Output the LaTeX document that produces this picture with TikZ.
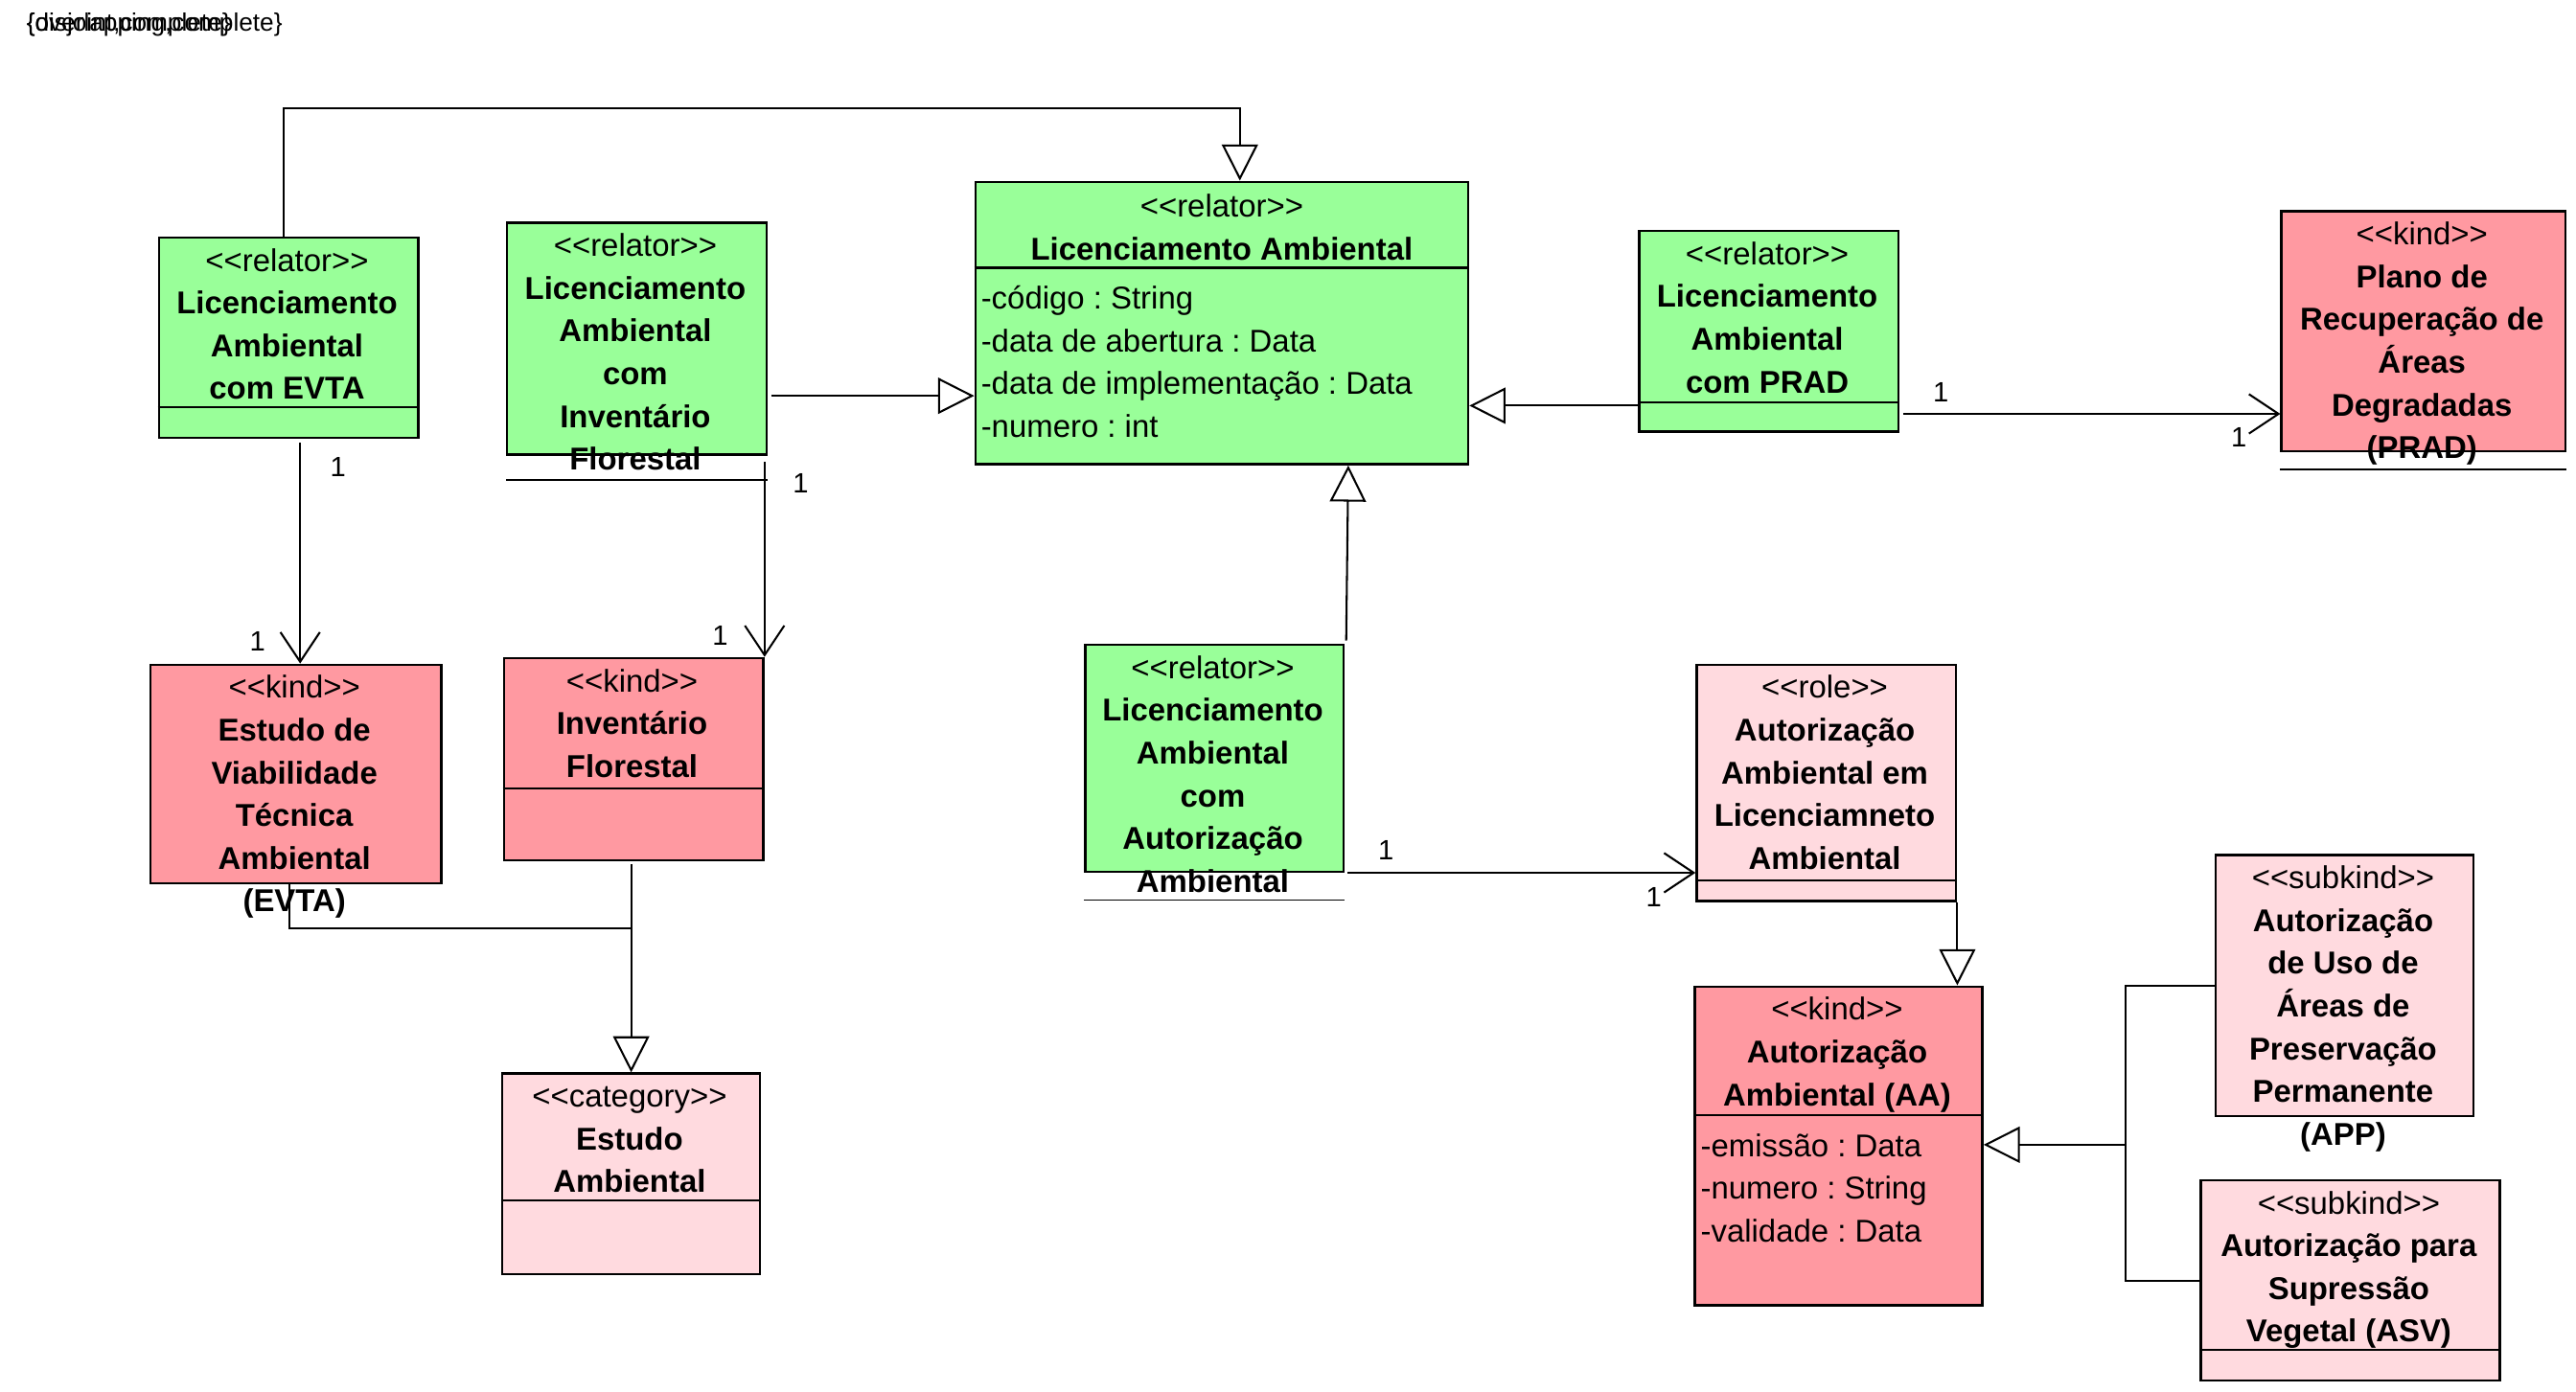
\documentclass[tikz,border=0pt]{standalone}
\usepackage{fontspec}
\setmainfont{Liberation Sans}[Ligatures=TeXOff]
\usetikzlibrary{arrows.meta,calc}
\definecolor{relgreen}{RGB}{153,255,153}
\definecolor{kindpink}{RGB}{255,153,161}
\definecolor{softpink}{RGB}{255,218,223}
\frenchspacing
% invisible strut that fixes the height of the first text line
\newcommand{\firstln}{\rule{0pt}{16pt}}
\begin{document}
\begin{tikzpicture}[x=1pt,y=-1pt,
  box/.style={draw, line width=1.4pt, inner sep=0pt, anchor=north west},
  cline/.style={line width=1.4pt},
  thinline/.style={line width=1pt},
  ctext/.style={align=center, inner sep=0pt, anchor=north, font=\fontsize{19.2}{26}\selectfont},
  atext/.style={align=left, inner sep=0pt, anchor=north west, font=\fontsize{19.2}{26}\selectfont},
  mult/.style={inner sep=0pt, font=\fontsize{17}{20}\selectfont},
  gen/.style={line width=1.2pt, -{Triangle[open, length=22pt, width=22pt, fill=white, line width=1.2pt]}},
  assoc/.style={line width=1.2pt, -{Straight Barb[length=18pt, width=24pt, line width=1.2pt]}}
]
\useasboundingbox (0,0) rectangle (1568,847);

% generalization set labels
\node[anchor=base west, inner sep=0pt, font=\fontsize{15.3}{18}\selectfont] (gsa) at (16,19) {\{disjoint,complete\}};
\node[anchor=base west, inner sep=0pt, font=\fontsize{15.3}{18}\selectfont] (gsb) at (16,19) {\{overlapping,complete\}};

% ---------- class boxes ----------
\node[box, fill=relgreen, minimum width=158pt, minimum height=122pt] (evtaR) at (96,144) {};
\node[box, fill=relgreen, minimum width=158pt, minimum height=141pt] (invR) at (308,135) {};
\node[box, fill=relgreen, minimum width=300pt, minimum height=172pt] (la) at (593,110) {};
\node[box, fill=relgreen, minimum width=158pt, minimum height=122pt] (pradR) at (997,140) {};
\node[box, fill=kindpink, minimum width=173pt, minimum height=146pt] (pradK) at (1388,128) {};
\node[box, fill=kindpink, minimum width=177pt, minimum height=133pt] (evtaK) at (91,404) {};
\node[box, fill=kindpink, minimum width=158pt, minimum height=123pt] (invK) at (306,400) {};
\node[box, fill=softpink, minimum width=157pt, minimum height=122pt] (estudo) at (305,653) {};
\node[box, fill=relgreen, minimum width=157pt, minimum height=138pt] (autR) at (660,392) {};
\node[box, fill=softpink, minimum width=158pt, minimum height=144pt] (role) at (1032,404) {};
\node[box, fill=kindpink, minimum width=175pt, minimum height=194pt] (aa) at (1031,600) {};
\node[box, fill=softpink, minimum width=157pt, minimum height=159pt] (app) at (1348,520) {};
\node[box, fill=softpink, minimum width=182pt, minimum height=122pt] (asv) at (1339,718) {};

% compartment dividers
\draw[cline] (evtaR.west |- 0,248) -- (evtaR.east |- 0,248);
\draw[line width=1.2pt] (invR.west |- 0,292) -- (invR.east |- 0,292);
\draw[cline] (la.west |- 0,163) -- (la.east |- 0,163);
\draw[cline] (pradR.west |- 0,245) -- (pradR.east |- 0,245);
\draw[line width=1.2pt] (pradK.west |- 0,286) -- (pradK.east |- 0,286);
\draw[cline] (invK.west |- 0,480) -- (invK.east |- 0,480);
\draw[cline] (estudo.west |- 0,731) -- (estudo.east |- 0,731);
\draw[thinline] (autR.west |- 0,548) -- (autR.east |- 0,548);
\draw[cline] (role.west |- 0,536) -- (role.east |- 0,536);
\draw[cline] (aa.west |- 0,679) -- (aa.east |- 0,679);
\draw[cline] (asv.west |- 0,822) -- (asv.east |- 0,822);

% ---------- class texts ----------
\node[ctext] (evtaRt) at ([xshift=-1pt,yshift=-5pt]evtaR.north) {\firstln<<relator>>\\\textbf{Licenciamento}\\\textbf{Ambiental}\\\textbf{com EVTA}};
\node[ctext] (invRt) at ([xshift=-1pt,yshift=-5pt]invR.north) {\firstln<<relator>>\\\textbf{Licenciamento}\\\textbf{Ambiental}\\\textbf{com}\\\textbf{Inventário}\\\textbf{Florestal}};
\node[ctext] (lat) at ([yshift=-6pt]la.north) {\firstln<<relator>>\\\textbf{Licenciamento Ambiental}};
\node[atext] (laa) at ([xshift=4pt,yshift=-62pt]la.north west) {\firstln-código : String\\-data de abertura : Data\\-data de implementação : Data\\-numero : int};
\node[ctext] (pradRt) at ([xshift=-1pt,yshift=-5pt]pradR.north) {\firstln<<relator>>\\\textbf{Licenciamento}\\\textbf{Ambiental}\\\textbf{com PRAD}};
\node[ctext] (pradKt) at ([xshift=-1pt,yshift=-5pt]pradK.north) {\firstln<<kind>>\\\textbf{Plano de}\\\textbf{Recuperação de}\\\textbf{Áreas}\\\textbf{Degradadas}\\\textbf{(PRAD)}};
\node[ctext] (evtaKt) at ([xshift=-1pt,yshift=-5pt]evtaK.north) {\firstln<<kind>>\\\textbf{Estudo de}\\\textbf{Viabilidade}\\\textbf{Técnica}\\\textbf{Ambiental}\\\textbf{(EVTA)}};
\node[ctext] (invKt) at ([xshift=-1pt,yshift=-5pt]invK.north) {\firstln<<kind>>\\\textbf{Inventário}\\\textbf{Florestal}};
\node[ctext] (estudot) at ([xshift=-1pt,yshift=-5pt]estudo.north) {\firstln<<category>>\\\textbf{Estudo}\\\textbf{Ambiental}};
\node[ctext] (autRt) at ([xshift=-1pt,yshift=-5pt]autR.north) {\firstln<<relator>>\\\textbf{Licenciamento}\\\textbf{Ambiental}\\\textbf{com}\\\textbf{Autorização}\\\textbf{Ambiental}};
\node[ctext] (rolet) at ([xshift=-1pt,yshift=-5pt]role.north) {\firstln<<role>>\\\textbf{Autorização}\\\textbf{Ambiental em}\\\textbf{Licenciamneto}\\\textbf{Ambiental}};
\node[ctext] (aat) at ([xshift=-1pt,yshift=-5pt]aa.north) {\firstln<<kind>>\\\textbf{Autorização}\\\textbf{Ambiental (AA)}};
\node[atext] (aaa) at ([xshift=4pt,yshift=-88pt]aa.north west) {\firstln-emissão : Data\\-numero : String\\-validade : Data};
\node[ctext] (appt) at ([xshift=-1pt,yshift=-5pt]app.north) {\firstln<<subkind>>\\\textbf{Autorização}\\\textbf{de Uso de}\\\textbf{Áreas de}\\\textbf{Preservação}\\\textbf{Permanente}\\\textbf{(APP)}};
\node[ctext] (asvt) at ([xshift=-1pt,yshift=-5pt]asv.north) {\firstln<<subkind>>\\\textbf{Autorização para}\\\textbf{Supressão}\\\textbf{Vegetal (ASV)}};

% ---------- generalizations to Licenciamento Ambiental ----------
\coordinate (s1) at ([xshift=-3pt]evtaR.north);
\coordinate (t1) at ([xshift=11pt]la.north);
\draw[gen] (s1) |- ($(t1)+(0,-44)$) -- (t1);
\draw[gen] ([xshift=2pt]invR.east |- 0,241) -- (la.west |- 0,241);
\draw[gen] (pradR.west |- 0,247) -- (la.east |- 0,247);
\coordinate (s4) at ([xshift=1pt,yshift=2pt]autR.north east);
\draw[gen] (s4) -- ([xshift=77pt]la.south);

% ---------- associations ----------
\coordinate (e1) at ([xshift=7pt,yshift=-2pt]evtaR.south);
\draw[assoc] (e1) -- (e1 |- evtaK.north)
  node[mult, pos=0.11, xshift=23pt] {1}
  node[mult, pos=0.9, xshift=-26pt] {1};
\coordinate (i1) at ([xshift=-2pt,yshift=-4pt]invR.south east);
\draw[assoc] (i1) -- (i1 |- invK.north)
  node[mult, pos=0.11, xshift=22pt] {1}
  node[mult, pos=0.89, xshift=-27pt] {1};
\coordinate (p1) at ([xshift=2pt]pradR.east |- 0,252);
\draw[assoc] (p1) -- (p1 -| pradK.west)
  node[mult, pos=0.1, yshift=13pt] {1}
  node[mult, pos=0.89, yshift=-14pt] {1};
\coordinate (a1) at ([xshift=2pt]autR.south east);
\draw[assoc] (a1) -- (a1 -| role.west)
  node[mult, pos=0.11, yshift=14pt] {1}
  node[mult, pos=0.88, yshift=-15pt] {1};

% ---------- role specializes kind ----------
\draw[gen] (role.south east) -- (role.south east |- aa.north);

% ---------- generalization set: Estudo Ambiental ----------
\coordinate (g1) at (estudo.north |- 0,565);
\draw[line width=1.2pt] ([xshift=-4pt]evtaK.south) |- (g1);
\draw[gen] ([yshift=-2pt]invK.south -| estudo.north) -- (estudo.north);

% ---------- generalization set: Autorização Ambiental ----------
\coordinate (h1) at (1294,697);
\draw[line width=1.2pt] (app.west) -| (h1);
\draw[line width=1.2pt] (asv.west) -| (h1);
\draw[gen] (h1) -- (h1 -| aa.east);
\end{tikzpicture}
\end{document}
